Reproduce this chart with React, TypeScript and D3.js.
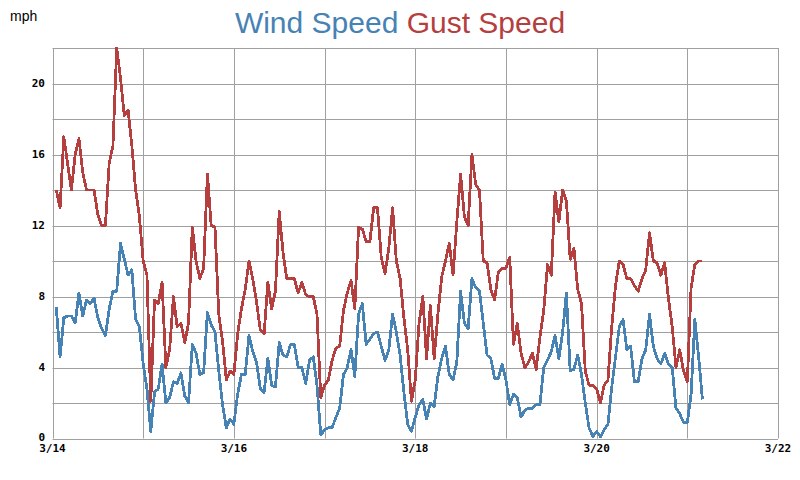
import React from "react";
import * as d3 from "d3";

const startDate = Date.UTC(2024, 2, 14, 0, 0, 0);
const endDate = Date.UTC(2024, 2, 22, 0, 0, 0);
const firstHour = 1;

const gustSpeed = [
  14, 13, 17, 15.5, 14, 16, 16.9, 15, 14, 14,
  14, 12.6, 12, 12, 15.5, 16.5, 22, 20.3, 18.2, 18.5,
  16.5, 14, 12.5, 10, 9.2, 2.1, 7.8, 7.6, 8.8, 4.0,
  5, 8, 6.3, 6.5, 5.4, 6.5, 11.9, 10, 9, 9.6,
  14.9, 12, 11.9, 7, 5.5, 3.3, 3.8, 3.6, 5.9, 7.3,
  8.4, 10, 9, 7.7, 6.1, 5.9, 8.8, 7.3, 8.3, 12.8,
  10.5, 9, 9, 9, 8.2, 8.8, 8.1, 8, 8, 7,
  2.3, 3, 3.3, 4.4, 5.1, 5.2, 7.2, 8.2, 8.9, 7.3,
  11.9, 11.8, 11.1, 11.1, 13, 13, 10.2, 9.3, 10.7, 13,
  10, 9, 6.8, 5, 2.1, 3.3, 6.5, 8, 4.5, 7.5,
  4.5, 7, 9.1, 10, 11, 9.2, 12.2, 14.9, 12.5, 12,
  16, 14.3, 14, 10, 9.9, 8.4, 7.8, 9.4, 9.6, 9.6,
  10.2, 5.3, 6.5, 4.8, 4, 4.3, 4.8, 3.9, 5.7, 7.2,
  9.8, 9.2, 13.9, 12.2, 14, 13.4, 10.1, 10.7, 8.4, 7.6,
  3.8, 3, 3, 2.8, 2, 3, 3.3, 6.3, 8.6, 10,
  9.8, 9, 9, 8.6, 8.3, 9, 9.5, 11.6, 10, 9.9,
  9.2, 9.9, 7.9, 6.3, 4, 5, 3.8, 3.2, 8.5, 9.8,
  10, 10,
];

const windSpeed = [
  7.4, 4.6, 6.8, 6.9, 6.9, 6.5, 8.2, 6.9, 7.8, 7.6,
  7.9, 6.8, 6.2, 5.8, 7.3, 8.3, 8.3, 11, 10.1, 9.2,
  9.5, 6.7, 6.3, 4.2, 2.8, 0.4, 2.6, 2.8, 4.2, 2,
  2.3, 3.2, 3.1, 3.7, 2.4, 2, 5.3, 4.8, 3.6, 3.7,
  7.1, 6.4, 6, 3.8, 1.9, 0.6, 1.1, 0.8, 2.5, 3.6,
  3.6, 5.8, 4.9, 4.3, 2.8, 2.6, 4.5, 3, 2.9, 5.4,
  4.7, 4.6, 5.3, 5.3, 4, 4, 3.1, 4.4, 4.6, 3,
  0.2, 0.5, 0.6, 0.6, 1.2, 1.7, 3.6, 4, 5, 3.5,
  7, 7.6, 5.3, 5.6, 5.9, 6, 5.2, 4.4, 5, 7,
  6, 4.7, 2.6, 0.8, 0.4, 1.2, 1.9, 2.2, 1.1, 2,
  1.8, 3.5, 4.5, 5.2, 3.6, 3.3, 4.3, 8.3, 6.5, 6.2,
  9, 8.5, 8.3, 6.5, 4.7, 4.5, 3.4, 3.4, 4.2, 3.3,
  1.9, 2.5, 2.3, 1.2, 1.6, 1.7, 1.7, 1.9, 1.9, 4,
  4.4, 4.9, 5.8, 4.5, 6, 8.2, 3.8, 3.9, 4.7, 3.6,
  2, 0.6, 0.1, 0.4, 0.1, 0.5, 0.8, 2.9, 4.6, 6.3,
  6.7, 5, 5.2, 3.2, 3.2, 4.5, 5, 7, 5.2, 4.5,
  4.2, 4.8, 4.2, 4, 1.7, 1.4, 0.9, 0.9, 2.5, 6.7,
  4.6, 2.2,
];

const yMax = 22;
const yGridStep = 2;
const yLabelStep = 4;
const titleParts = ["Wind Speed", "Gust Speed"];
const unitLabel = "mph";

const WIND = "#4682b4";
const GUST = "#b53f3f";
const GRID = "#a0a0a0";

const W = 800;
const H = 480;
const left = 52.5;
const right = 778;
const top = 48;
const bottom = 438.5;

export default function App() {
  const x = d3.scaleUtc().domain([new Date(startDate), new Date(endDate)]).range([left, right]);
  const y = d3.scaleLinear().domain([0, yMax]).range([bottom, top]);
  const timeAt = (i: number) => new Date(startDate + (firstHour + i) * 3600 * 1000);

  const line = d3
    .line<number>()
    .x((_, i) => x(timeAt(i)))
    .y((d) => y(d));

  const days = d3.utcDay.range(new Date(startDate), new Date(endDate + 1));
  const fmt = d3.utcFormat("%-m/%-d");
  const yGrid = d3.range(0, yMax + 0.001, yGridStep);
  const yLabels = d3.range(0, yMax, yLabelStep);

  const tickFont = {
    fontFamily: "'DejaVu Sans Mono', monospace",
    fontWeight: 700,
    fontSize: 11,
    fill: "#000",
  } as const;

  return (
    <svg
      width={W}
      height={H}
      style={{ position: "absolute", left: 0, top: 0, background: "#fff" }}
    >
      <rect x={0} y={0} width={W} height={H} fill="#fff" />
      {yGrid.map((v) => (
        <line
          key={"h" + v}
          x1={left}
          x2={right}
          y1={Math.round(y(v)) + 0.5}
          y2={Math.round(y(v)) + 0.5}
          stroke={GRID}
          strokeWidth={1}
        />
      ))}
      {days.map((d, i) => (
        <line
          key={"v" + i}
          x1={Math.round(x(d)) + 0.5}
          x2={Math.round(x(d)) + 0.5}
          y1={top}
          y2={bottom}
          stroke={GRID}
          strokeWidth={1}
        />
      ))}
      <path
        d={line(gustSpeed) || ""}
        fill="none"
        stroke={GUST}
        strokeWidth={2.8}
        strokeLinejoin="round"
        shapeRendering="crispEdges"
      />
      <path
        d={line(windSpeed) || ""}
        fill="none"
        stroke={WIND}
        strokeWidth={2.8}
        strokeLinejoin="round"
        shapeRendering="crispEdges"
      />
      {yLabels.map((v) => (
        <text
          key={"yl" + v}
          x={45}
          y={y(v) - (v === 0 ? 1 : 0)}
          textAnchor="end"
          dominantBaseline="central"
          style={tickFont}
        >
          {v}
        </text>
      ))}
      {days
        .filter((_, i) => i % 2 === 0)
        .map((d, i) => (
          <text key={"xl" + i} x={x(d)} y={452} textAnchor="middle" style={tickFont}>
            {fmt(d)}
          </text>
        ))}
      <text
        x={10}
        y={21}
        style={{ fontFamily: "'Liberation Sans', Arial, sans-serif", fontSize: 14, fill: "#000" }}
      >
        {unitLabel}
      </text>
      <text
        x={400}
        y={33}
        textAnchor="middle"
        style={{ fontFamily: "'Liberation Sans', Arial, sans-serif", fontSize: 30 }}
      >
        <tspan fill={WIND}>{titleParts[0]}</tspan>
        <tspan fill={GUST}> {titleParts[1]}</tspan>
      </text>
    </svg>
  );
}
